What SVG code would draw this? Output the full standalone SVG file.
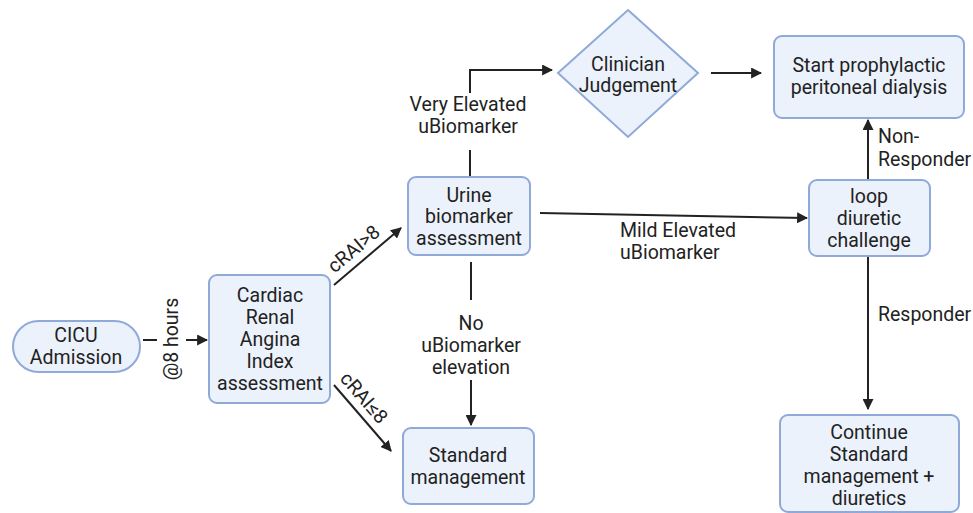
<svg xmlns="http://www.w3.org/2000/svg" width="973" height="513" viewBox="0 0 973 513">
<defs>
<marker id="ah" viewBox="0 0 10 10" refX="9" refY="5" markerWidth="5.5" markerHeight="5.5" orient="auto" markerUnits="strokeWidth">
<path d="M0,0 L10,5 L0,10 Z" fill="#222"/>
</marker>
<style>
.box{fill:#EBF2FC;stroke:#8FA9D9;stroke-width:2}
.t{font-family:Roboto,"Liberation Sans",sans-serif;font-size:19.5px;fill:#222;text-anchor:middle}
.l{font-family:Roboto,"Liberation Sans",sans-serif;font-size:19.5px;fill:#222;text-anchor:middle}
.ls{font-family:Roboto,"Liberation Sans",sans-serif;font-size:19.5px;fill:#222}
.c{fill:none;stroke:#222;stroke-width:2}
.ca{fill:none;stroke:#222;stroke-width:2;marker-end:url(#ah)}
</style>
</defs>
<rect width="973" height="513" fill="#fff"/>

<g id="connectors">
<line class="c" x1="143" y1="340" x2="157" y2="340"/>
<line class="ca" x1="186" y1="340" x2="207" y2="340"/>
<line class="ca" x1="334" y1="285" x2="401" y2="228"/>
<line class="ca" x1="334" y1="385" x2="391" y2="451"/>
<line class="c" x1="470" y1="177" x2="470" y2="150"/>
<polyline class="ca" points="470,93 470,70 552,70"/>
<line class="ca" x1="711" y1="73" x2="761" y2="73"/>
<line class="ca" x1="540" y1="213" x2="807" y2="218"/>
<line class="ca" x1="868" y1="180" x2="868" y2="120"/>
<line class="ca" x1="868" y1="257" x2="868" y2="409"/>
<line class="c" x1="471" y1="262" x2="471" y2="300"/>
<line class="ca" x1="471" y1="380" x2="471" y2="425"/>
</g>

<g id="labels">
<text class="l" transform="translate(178,339) rotate(-90)">@8 hours</text>
<text class="l" transform="translate(358,254) rotate(-40)">cRAI&gt;8</text>
<text class="l" transform="translate(359,402) rotate(49)">cRAI≤8</text>
<text class="l" x="468" y="111">Very Elevated</text>
<text class="l" x="468" y="133">uBiomarker</text>
<text class="ls" x="620" y="237">Mild Elevated</text>
<text class="ls" x="620" y="259">uBiomarker</text>
<text class="ls" x="878" y="143">Non-</text>
<text class="ls" x="878" y="166">Responder</text>
<text class="ls" x="878" y="321">Responder</text>
<text class="l" x="471" y="330">No</text>
<text class="l" x="471" y="352">uBiomarker</text>
<text class="l" x="471" y="374">elevation</text>
</g>

<g id="cicu">
<rect class="box" x="13" y="321" width="127" height="51" rx="25.5"/>
<text class="t" x="76" y="342">CICU</text>
<text class="t" x="76" y="364">Admission</text>
</g>

<g id="crai">
<rect class="box" x="209" y="275" width="121" height="128" rx="8"/>
<text class="t" x="270" y="302">Cardiac</text>
<text class="t" x="270" y="324">Renal</text>
<text class="t" x="270" y="346">Angina</text>
<text class="t" x="270" y="368">Index</text>
<text class="t" x="270" y="390">assessment</text>
</g>

<g id="urine">
<rect class="box" x="408" y="177" width="122" height="78" rx="8"/>
<text class="t" x="469" y="202">Urine</text>
<text class="t" x="469" y="223">biomarker</text>
<text class="t" x="469" y="245">assessment</text>
</g>

<g id="standard">
<rect class="box" x="403" y="428" width="131" height="76" rx="8"/>
<text class="t" x="468" y="462">Standard</text>
<text class="t" x="468" y="484">management</text>
</g>

<g id="clinician">
<polygon class="box" points="628,10 698,73 628,137 558,73"/>
<text class="t" x="628" y="71">Clinician</text>
<text class="t" x="628" y="92">Judgement</text>
</g>

<g id="dialysis">
<rect class="box" x="774" y="36" width="190" height="82" rx="8"/>
<text class="t" x="869" y="72">Start prophylactic</text>
<text class="t" x="869" y="94">peritoneal dialysis</text>
</g>

<g id="loop">
<rect class="box" x="809" y="180" width="121" height="76" rx="8"/>
<text class="t" x="869" y="203">loop</text>
<text class="t" x="869" y="225">diuretic</text>
<text class="t" x="869" y="247">challenge</text>
</g>

<g id="continue">
<rect class="box" x="780" y="415" width="179" height="97" rx="8"/>
<text class="t" x="869" y="439">Continue</text>
<text class="t" x="869" y="461">Standard</text>
<text class="t" x="869" y="483">management +</text>
<text class="t" x="869" y="505">diuretics</text>
</g>
</svg>
